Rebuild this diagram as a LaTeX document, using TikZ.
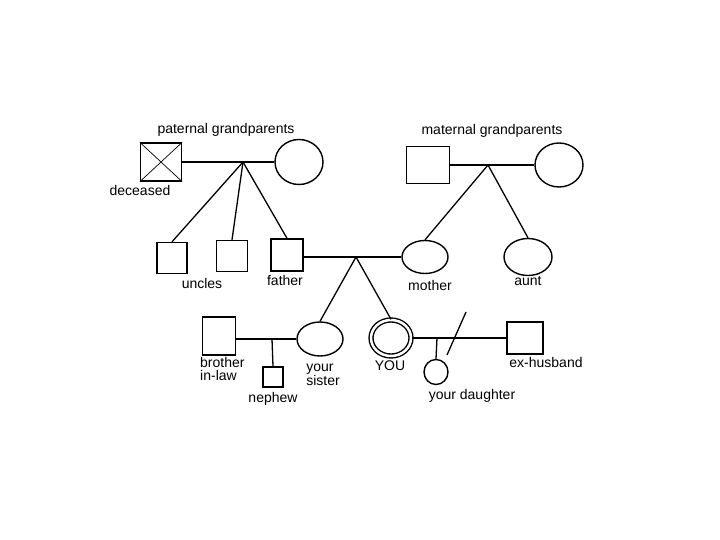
\documentclass[tikz,border=0pt]{standalone}
\usepackage{fontspec}
\setmainfont{Liberation Sans}
\usetikzlibrary{positioning,shapes.geometric}
\tikzset{
  male/.style={draw,line width=1.4pt,inner sep=0pt},
  female/.style={ellipse,draw,line width=1.4pt,inner sep=0pt},
  tie/.style={line width=1.3pt},
  lbl/.style={font=\fontsize{14}{12.5}\selectfont,inner sep=0pt,align=left}
}

\begin{document}
\begin{tikzpicture}[x=1pt,y=-1pt]
  \useasboundingbox (0,0) rectangle (720,540);

  % grandparents
  \node[male,minimum width=41pt,minimum height=38pt] (pgf) at (161,162) {};
  \node[female,minimum width=48pt,minimum height=45pt] (pgm) at (299,162) {};
  \node[male,minimum width=43pt,minimum height=37pt] (mgf) at (428,165) {};
  \node[female,minimum width=48pt,minimum height=44pt] (mgm) at (559,165) {};
  \coordinate (pjoin) at (243,162);
  \coordinate (mjoin) at (488,165);

  % parents, uncles, aunt
  \node[male,minimum width=30pt,minimum height=31pt] (uncleA) at (172,258) {};
  \node[male,minimum width=31pt,minimum height=31pt] (uncleB) at (232,256) {};
  \node[male,minimum width=32pt,minimum height=32pt] (father) at (287,255) {};
  \node[female,minimum width=46pt,minimum height=33pt] (mother) at (425,257) {};
  \node[female,minimum width=48pt,minimum height=37pt] (aunt) at (528,257) {};
  \coordinate (fjoin) at (356,257);

  % your generation
  \node[male,minimum width=33pt,minimum height=38pt] (inlaw) at (219,336) {};
  \node[female,minimum width=46pt,minimum height=34pt] (sister) at (320,339) {};
  \node[female,minimum width=40pt,minimum height=36pt,double,double distance=2.5pt] (you) at (391,338) {};
  \node[male,minimum width=36pt,minimum height=32pt] (exhusband) at (525,338) {};
  \coordinate (sjoin) at (272,339);
  \coordinate (yjoin) at (437,338);
  \coordinate (cutA) at (466,312);
  \coordinate (cutB) at (447,355);

  % children
  \node[male,minimum width=20pt,minimum height=20pt] (nephew) at (273,377) {};
  \node[female,minimum width=24pt,minimum height=25pt] (daughter) at (436,372) {};

  \draw[line width=0.7pt] (pgf.north west) -- (pgf.south east);
  \draw[line width=0.7pt] (pgf.north east) -- (pgf.south west);

  \draw[tie] (pgf) -- (pgm);
  \draw[tie] (mgf) -- (mgm);
  \draw[tie] (pjoin) -- (uncleA.north);
  \draw[tie] (pjoin) -- (uncleB.north);
  \draw[tie] (pjoin) -- (father.north);
  \draw[tie] (mjoin) -- (mother.north);
  \draw[tie] (mjoin) -- (aunt.north);
  \draw[tie] (father.east |- mother.west) -- (mother.west);
  \draw[tie] (fjoin) -- (sister.north);
  \draw[tie] (fjoin) -- (you.north);
  \draw[tie] (inlaw.east |- sister.west) -- (sister.west);
  \draw[tie] (sjoin) -- (nephew.north);
  \draw[tie] (you.east) -- (exhusband.west |- you.east);
  \draw[tie] (yjoin) -- (daughter.north);
  \draw[tie] (cutA) -- (cutB);

  % labels
  \node[lbl] (pgpLabel) at (226,130) {paternal grandparents};
  \node[lbl] (mgpLabel) at (492,131) {maternal grandparents};
  \node[lbl] (deadLabel) at (140,190) {deceased};
  \node[lbl] (unclesLabel) at (202,283) {uncles};
  \node[lbl] (fatherLabel) at (285,280) {father};
  \node[lbl] (motherLabel) at (430,285) {mother};
  \node[lbl] (auntLabel) at (528,281) {aunt};
  \node[lbl,anchor=west] (inlawLabel) at (200,369) {brother\\in-law};
  \node[lbl] (sisterLabel) at (323,375) {your\\sister};
  \node[lbl] (nephewLabel) at (273,399) {nephew};
  \node[lbl] (youLabel) at (390,366) {YOU};
  \node[lbl] (exLabel) at (546,362) {ex-husband};
  \node[lbl] (daughterLabel) at (472,396) {your daughter};
\end{tikzpicture}
\end{document}
